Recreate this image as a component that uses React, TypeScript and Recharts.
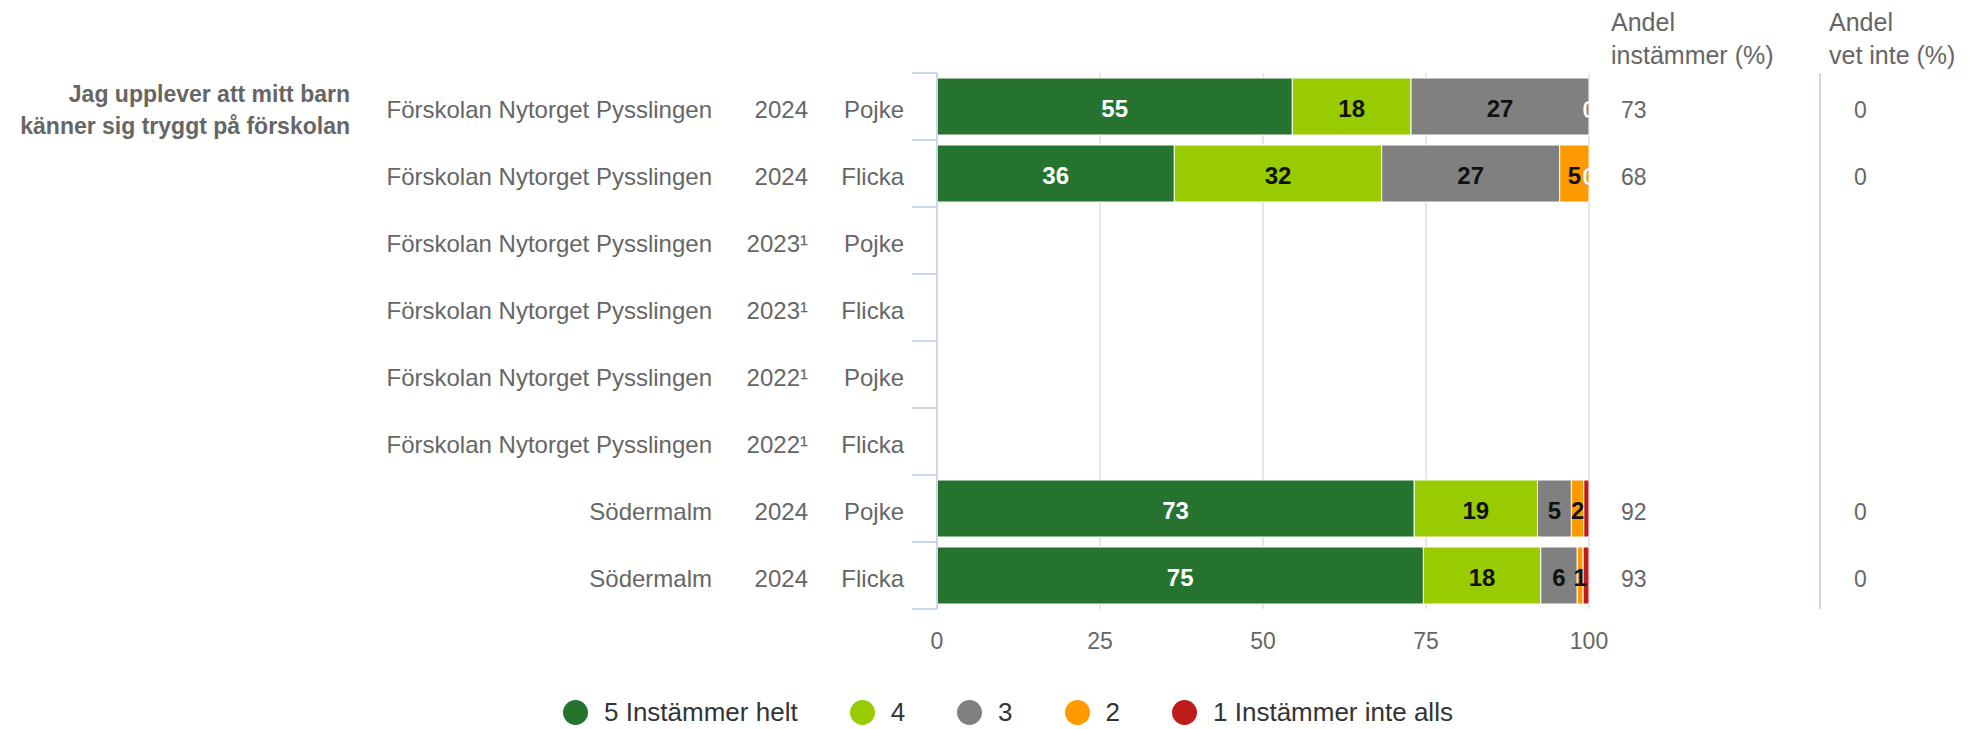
import { BarChart, Bar, XAxis, YAxis, CartesianGrid, LabelList } from 'recharts';

const places = [
  'Förskolan Nytorget Pysslingen',
  'Förskolan Nytorget Pysslingen',
  'Förskolan Nytorget Pysslingen',
  'Förskolan Nytorget Pysslingen',
  'Förskolan Nytorget Pysslingen',
  'Förskolan Nytorget Pysslingen',
  'Södermalm',
  'Södermalm',
];
const years = ['2024', '2024', '2023¹', '2023¹', '2022¹', '2022¹', '2024', '2024'];
const genders = ['Pojke', 'Flicka', 'Pojke', 'Flicka', 'Pojke', 'Flicka', 'Pojke', 'Flicka'];
const rowKeys = places.map((_, i) => `row${i}`);

// andel per svarsalternativ (%), null = inga data
const helt = [54.5, 36.4, null, null, null, null, 73.2, 74.6];
const fyra = [18.2, 31.8, null, null, null, null, 18.9, 18.0];
const tre = [27.3, 27.3, null, null, null, null, 5.2, 5.6];
const tva = [0, 4.5, null, null, null, null, 1.9, 0.9];
const inteAlls = [0, 0, null, null, null, null, 0.8, 0.9];

const andelInstammer = [73, 68, null, null, null, null, 92, 93];
const andelVetInte = [0, 0, null, null, null, null, 0, 0];

const xTicks = [0, 25, 50, 75, 100];

const question = ['Jag upplever att mitt barn', 'känner sig tryggt på förskolan'];

const series = [
  { key: 's5', name: '5 Instämmer helt', color: '#267330', values: helt, labelColor: '#ffffff', hideSmall: false },
  { key: 's4', name: '4', color: '#99cc00', values: fyra, labelColor: '#111111', hideSmall: false },
  { key: 's3', name: '3', color: '#808080', values: tre, labelColor: '#111111', hideSmall: false },
  { key: 's2', name: '2', color: '#ff9900', values: tva, labelColor: '#111111', hideSmall: false },
  { key: 's1', name: '1 Instämmer inte alls', color: '#bf1b1b', values: inteAlls, labelColor: '#111111', hideSmall: true },
];

// rader där något svarsalternativ är 0 (stapeln slutar då vid 100)
const hasZero = rowKeys.map((_, i) => series.some((s) => s.values[i] === 0));

const data = rowKeys.map((key, i) => {
  const row: Record<string, any> = { key };
  series.forEach((s) => {
    row[s.key] = s.values[i];
  });
  return row;
});

const FONT = '"Liberation Sans", Arial, Helvetica, sans-serif';
const axisBlue = '#ccd6eb';
const textGray = '#666666';

function RowTick(props: any) {
  const { x, y, payload } = props;
  const i = rowKeys.indexOf(payload.value);
  const half = payload.offset || 33.5;
  return (
    <g>
      <line x1={x - 25} x2={x} y1={y - half} y2={y - half} stroke={axisBlue} strokeWidth={2} />
      {i === rowKeys.length - 1 && (
        <line x1={x - 25} x2={x} y1={y + half} y2={y + half} stroke={axisBlue} strokeWidth={2} />
      )}
      <text x={x - 225} y={y} dy={3} textAnchor="end" dominantBaseline="central" fill={textGray} fontSize={24} fontFamily={FONT}>
        {places[i]}
      </text>
      <text x={x - 129} y={y} dy={3} textAnchor="end" dominantBaseline="central" fill={textGray} fontSize={24} fontFamily={FONT}>
        {years[i]}
      </text>
      <text x={x - 33} y={y} dy={3} textAnchor="end" dominantBaseline="central" fill={textGray} fontSize={24} fontFamily={FONT}>
        {genders[i]}
      </text>
    </g>
  );
}

function ShareTick(props: any) {
  const { x, y, payload } = props;
  const i = rowKeys.indexOf(payload.value);
  const half = payload.offset || 33.5;
  const clipId = `zero-clip-${i}`;
  return (
    <g>
      <line x1={x + 231} x2={x + 231} y1={y - half} y2={y + half} stroke={axisBlue} strokeWidth={2} />
      {hasZero[i] && (
        <g>
          <clipPath id={clipId}>
            <rect x={x - 30} y={y - half} width={30} height={half * 2} />
          </clipPath>
          {/* dataetikett för 0-värdet i stapelns slut (vid 100) */}
          <text
            x={x}
            y={y}
            dy={3}
            textAnchor="middle"
            dominantBaseline="central"
            fill="#ffffff"
            stroke="#00000030"
            strokeWidth={0.8}
            fontSize={24}
            fontWeight="bold"
            fontFamily={FONT}
            clipPath={`url(#${clipId})`}
          >
            0
          </text>
        </g>
      )}
      {andelInstammer[i] != null && (
        <text x={x + 32} y={y} dy={3} textAnchor="start" dominantBaseline="central" fill={textGray} fontSize={23} fontFamily={FONT}>
          {andelInstammer[i]}
        </text>
      )}
      {andelVetInte[i] != null && (
        <text x={x + 265} y={y} dy={3} textAnchor="start" dominantBaseline="central" fill={textGray} fontSize={23} fontFamily={FONT}>
          {andelVetInte[i]}
        </text>
      )}
    </g>
  );
}

function makeLabel(s: (typeof series)[number]) {
  return (props: any) => {
    const box = props.viewBox || props;
    const { x, y, width, height } = box;
    let v = props.value;
    if (Array.isArray(v)) v = v[1] - v[0];
    if (v == null || x == null || Number.isNaN(v) || v === 0) return null;
    if (s.hideSmall && v < 3) return null;
    return (
      <text
        x={x + width / 2}
        y={y + height / 2}
        dy={2}
        textAnchor="middle"
        dominantBaseline="central"
        fill={s.labelColor}
        fontSize={24}
        fontWeight="bold"
        fontFamily={FONT}
      >
        {Math.round(v)}
      </text>
    );
  };
}

export default function App() {
  return (
    <div style={{ position: 'absolute', left: 0, top: 0, width: 1970, height: 729, background: '#fff', fontFamily: FONT }}>
      <BarChart
        width={1970}
        height={729}
        data={data}
        layout="vertical"
        margin={{ top: 73, right: 0, bottom: 60, left: 337 }}
      >
        <CartesianGrid horizontal={false} stroke="#e6e6e6" strokeWidth={2} />
        {series.map((s) => (
          <Bar
            key={s.key}
            dataKey={s.key}
            name={s.name}
            stackId="svar"
            fill={s.color}
            stroke="#ffffff"
            strokeWidth={1}
            barSize={57}
            isAnimationActive={false}
          >
            <LabelList dataKey={s.key} content={makeLabel(s)} />
          </Bar>
        ))}
        <XAxis
          type="number"
          domain={[0, 100]}
          ticks={xTicks}
          interval={0}
          axisLine={false}
          tickLine={false}
          tickSize={0}
          tickMargin={24}
          height={60}
          tick={{ fill: textGray, fontSize: 23, fontFamily: FONT }}
        />
        <YAxis
          type="category"
          dataKey="key"
          width={600}
          interval={0}
          axisLine={{ stroke: axisBlue, strokeWidth: 2 }}
          tickLine={false}
          tickSize={0}
          tickMargin={0}
          tick={<RowTick />}
        />
        <YAxis
          yAxisId="share"
          orientation="right"
          type="category"
          dataKey="key"
          width={381}
          interval={0}
          axisLine={false}
          tickLine={false}
          tickSize={0}
          tickMargin={0}
          tick={<ShareTick />}
        />
      </BarChart>

      {/* frågetext */}
      <div
        style={{
          position: 'absolute',
          right: 1970 - 350,
          top: 78,
          textAlign: 'right',
          fontSize: 23,
          fontWeight: 'bold',
          lineHeight: '32px',
          color: textGray,
          whiteSpace: 'nowrap',
        }}
      >
        {question[0]}
        <br />
        {question[1]}
      </div>

      {/* kolumnrubriker */}
      <div style={{ position: 'absolute', left: 1611, top: 6, fontSize: 25, lineHeight: '33px', color: textGray, whiteSpace: 'nowrap' }}>
        Andel
        <br />
        instämmer (%)
      </div>
      <div style={{ position: 'absolute', left: 1829, top: 6, fontSize: 25, lineHeight: '33px', color: textGray, whiteSpace: 'nowrap' }}>
        Andel
        <br />
        vet inte (%)
      </div>

      {/* förklaring */}
      <div
        style={{
          position: 'absolute',
          left: 563,
          top: 692,
          height: 40,
          display: 'flex',
          alignItems: 'center',
          gap: 52,
          whiteSpace: 'nowrap',
        }}
      >
        {series.map((s) => (
          <div key={s.key} style={{ display: 'flex', alignItems: 'center', gap: 16 }}>
            <span style={{ width: 25, height: 25, borderRadius: '50%', background: s.color, display: 'inline-block' }} />
            <span style={{ fontSize: 26, color: '#333333' }}>{s.name}</span>
          </div>
        ))}
      </div>
    </div>
  );
}
